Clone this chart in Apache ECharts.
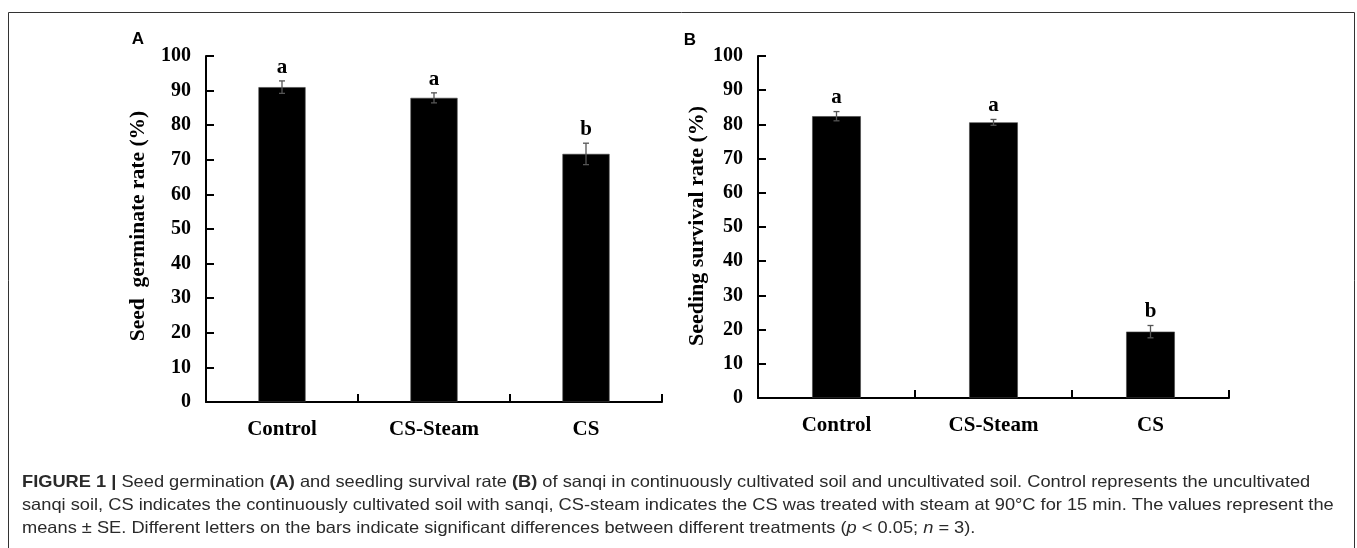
<!DOCTYPE html>
<html>
<head>
<meta charset="utf-8">
<script src="https://cdn.jsdelivr.net/npm/echarts@6/dist/echarts.min.js"></script>
<style>
html,body{margin:0;padding:0;background:#fff;}
#chart{width:1357px;height:548px;}
</style>
</head>
<body>
<div id="chart"></div>
<script>
// ---- data ----
const categories = ['Control', 'CS-Steam', 'CS'];
const germRate = [91.0, 87.9, 71.7];
const germSE = [1.8, 1.45, 3.1];
const germLetters = ['a', 'a', 'b'];
const survRate = [82.4, 80.6, 19.4];
const survSE = [1.35, 0.85, 1.8];
const survLetters = ['a', 'a', 'b'];
const yMin = 0, yMax = 100, yInterval = 10;
const titleA = 'Seed  germinate rate (%)';
const titleB = 'Seeding survival rate (%)';

const serif = '"Liberation Serif", "Times New Roman", serif';
const sans = '"Liberation Sans", Arial, sans-serif';

function yAxisCfg(gi) {
  return {
    type: 'value', gridIndex: gi, min: yMin, max: yMax, interval: yInterval,
    splitLine: { show: false },
    axisLine: { show: true, lineStyle: { color: '#000', width: 2 } },
    axisTick: { show: true, inside: true, length: 8, lineStyle: { color: '#000', width: 2 } },
    axisLabel: { margin: 15, color: '#000', fontFamily: serif, fontWeight: 'bold', fontSize: 20 }
  };
}
function xAxisCfg(gi) {
  return {
    type: 'category', gridIndex: gi, data: categories, boundaryGap: true,
    axisLine: { show: true, lineStyle: { color: '#000', width: 2 } },
    axisTick: { show: true, inside: true, length: 8, alignWithLabel: false, lineStyle: { color: '#000', width: 2 } },
    axisLabel: { margin: 17, color: '#000', fontFamily: serif, fontWeight: 'bold', fontSize: 21 }
  };
}
function errSeries(gi, vals, se, letters) {
  return {
    type: 'custom', xAxisIndex: gi, yAxisIndex: gi, z: 5,
    data: vals.map((v, i) => [i, v, se[i]]),
    renderItem: function (params, api) {
      const i = api.value(0), v = api.value(1), e = api.value(2);
      const top = api.coord([i, v + e]);
      const bot = api.coord([i, v - e]);
      const cap = 3;
      const st = { stroke: '#555', lineWidth: 1.3 };
      return {
        type: 'group',
        children: [
          { type: 'line', shape: { x1: top[0], y1: top[1], x2: bot[0], y2: bot[1] }, style: st },
          { type: 'line', shape: { x1: top[0] - cap, y1: top[1], x2: top[0] + cap, y2: top[1] }, style: st },
          { type: 'line', shape: { x1: bot[0] - cap, y1: bot[1], x2: bot[0] + cap, y2: bot[1] }, style: st },
          { type: 'text', x: top[0], y: top[1] - 3,
            style: { text: letters[params.dataIndex], fill: '#000', font: 'bold 21px ' + serif,
                     align: 'center', verticalAlign: 'bottom' } }
        ]
      };
    }
  };
}
function barSeries(gi, vals) {
  return {
    type: 'bar', xAxisIndex: gi, yAxisIndex: gi, data: vals, barWidth: '31%',
    itemStyle: { color: '#000', borderColor: '#444', borderWidth: 0.6 }
  };
}

const chart = echarts.init(document.getElementById('chart'), null, { renderer: 'canvas' });
chart.setOption({
  animation: false,
  backgroundColor: '#fff',
  grid: [
    { left: 206, top: 56, width: 456, height: 346 },
    { left: 758, top: 56, width: 471, height: 342 }
  ],
  xAxis: [xAxisCfg(0), xAxisCfg(1)],
  yAxis: [yAxisCfg(0), yAxisCfg(1)],
  series: [
    barSeries(0, germRate), errSeries(0, germRate, germSE, germLetters),
    barSeries(1, survRate), errSeries(1, survRate, survSE, survLetters)
  ],
  graphic: [
    { type: 'rect', shape: { x: 8.5, y: 12.5, width: 1346, height: 600 }, style: { fill: 'none', stroke: '#333', lineWidth: 1 }, silent: true },
    { type: 'text', x: 138, y: 39, style: { text: 'A', font: 'bold 17px ' + sans, fill: '#000', align: 'center', verticalAlign: 'middle' } },
    { type: 'text', x: 690, y: 40, style: { text: 'B', font: 'bold 17px ' + sans, fill: '#000', align: 'center', verticalAlign: 'middle' } },
    { type: 'text', x: 138, y: 226, rotation: Math.PI / 2, style: { text: titleA, font: 'bold 21.5px ' + serif, fill: '#000', align: 'center', verticalAlign: 'middle' } },
    { type: 'text', x: 697, y: 226, rotation: Math.PI / 2, style: { text: titleB, font: 'bold 22px ' + serif, fill: '#000', align: 'center', verticalAlign: 'middle' } },
    { type: 'text', x: 22, y: 470.5, scaleX: 1.106, scaleY: 1,
      style: {
        text: '{b|FIGURE 1 |} Seed germination {b|(A)} and seedling survival rate {b|(B)} of sanqi in continuously cultivated soil and uncultivated soil. Control represents the uncultivated\n' +
              'sanqi soil, CS indicates the continuously cultivated soil with sanqi, CS-steam indicates the CS was treated with steam at 90\u00B0C for 15 min. The values represent the\n' +
              'means \u00B1 SE. Different letters on the bars indicate significant differences between different treatments ({i|p} < 0.05; {i|n} = 3).',
        font: '16.5px ' + sans, fill: '#2a2a2a', lineHeight: 23, align: 'left', verticalAlign: 'top',
        rich: {
          b: { fontWeight: 'bold', fontFamily: sans, fontSize: 16.5, fill: '#2a2a2a', lineHeight: 23 },
          i: { fontStyle: 'italic', fontFamily: sans, fontSize: 16.5, fill: '#2a2a2a', lineHeight: 23 }
        }
      }
    }
  ]
});
</script>
</body>
</html>
